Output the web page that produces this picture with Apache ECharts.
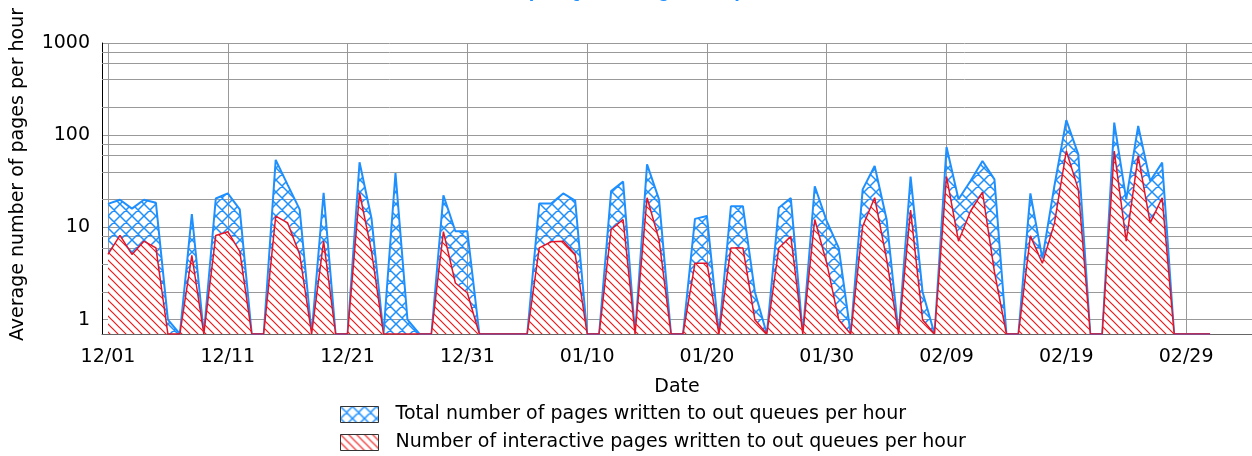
<!DOCTYPE html>
<html>
<head>
<meta charset="utf-8">
<script src="https://cdn.jsdelivr.net/npm/echarts@6/dist/echarts.min.js"></script>
<style>
  html, body { margin: 0; padding: 0; background: #fff; }
  #chart { width: 1252px; height: 456px; }
</style>
</head>
<body>
<div id="chart"></div>
<script>
  // days on the x axis (12/01 .. 03/05), one category per day
  const days = [
    '12/01','12/02','12/03','12/04','12/05','12/06','12/07','12/08','12/09','12/10',
    '12/11','12/12','12/13','12/14','12/15','12/16','12/17','12/18','12/19','12/20',
    '12/21','12/22','12/23','12/24','12/25','12/26','12/27','12/28','12/29','12/30','12/31',
    '01/01','01/02','01/03','01/04','01/05','01/06','01/07','01/08','01/09','01/10',
    '01/11','01/12','01/13','01/14','01/15','01/16','01/17','01/18','01/19','01/20',
    '01/21','01/22','01/23','01/24','01/25','01/26','01/27','01/28','01/29','01/30','01/31',
    '02/01','02/02','02/03','02/04','02/05','02/06','02/07','02/08','02/09','02/10',
    '02/11','02/12','02/13','02/14','02/15','02/16','02/17','02/18','02/19','02/20',
    '02/21','02/22','02/23','02/24','02/25','02/26','02/27','02/28','02/29',
    '03/01','03/02','03/03','03/04','03/05'
  ];

  const seriesNames = [
    'Total number of pages written to out queues per hour',
    'Number of interactive pages written to out queues per hour'
  ];

  // pages per hour, one value per day from 12/01 (0 = nothing written)
  const totalPages = [
    18, 20, 16, 20, 18.5, 1, 0, 14, 0, 20.6,
    23.4, 15.7, 0, 0, 54, 29, 15.7, 0, 23.8, 0,
    0, 51, 12.5, 0, 39, 1, 0, 0, 22.3, 9.1,
    9.1, 0, 0, 0, 0, 0, 18.2, 18.2, 23.4, 19.6,
    0, 0, 24.8, 31.4, 0, 48.4, 20.2, 0, 0, 12.4,
    13.3, 0, 17, 17, 2, 0, 16.4, 20.8, 0, 28,
    11.7, 6, 0, 25.9, 46.4, 12.2, 0, 35.6, 2, 0,
    74.6, 20.2, 31.9, 52.6, 33.2, 0, 0, 23.4, 4.6, 28,
    146, 62, 0, 0, 137, 20.2, 126, 31.9, 50.5, 0,
    0, 0, 0
  ];
  const interactivePages = [
    5.1, 8.2, 5.1, 7.1, 6, 0, 0, 5, 0, 8.2,
    9, 5.5, 0, 0, 13.3, 11.2, 5.1, 0, 7.1, 0,
    0, 23.8, 5.5, 0, 0, 0, 0, 0, 9, 2.5,
    1.95, 0, 0, 0, 0, 0, 6, 7, 7.1, 5.1,
    0, 0, 9.5, 12.2, 0, 21, 7.4, 0, 0, 4.1,
    4.1, 0, 6, 6, 1, 0, 6, 8, 0, 12.2,
    4.1, 1, 0, 10.3, 21, 4.5, 0, 15.4, 1, 0,
    35.6, 7.1, 15, 24.2, 3.3, 0, 0, 8.1, 4.1, 11,
    67.5, 25.9, 0, 0, 67.5, 7.1, 59.6, 11.2, 21, 0,
    0, 0, 0
  ];

  const yTicks = [1, 10, 100, 1000];
  const minorGrid = [2, 4, 6, 8, 20, 40, 60, 80, 200, 400, 600, 800];
  const yFloor = 0.7;   // bottom of the log axis, zero days sit on it

  const FONT = 'DejaVu Sans';

  function onLog(v) { return v > 0 ? v : yFloor; }

  // hatch tiles for the two areas
  function hatch(size, bg, color, width, cross) {
    const c = document.createElement('canvas');
    c.width = size; c.height = size;
    const ctx = c.getContext('2d');
    if (bg) { ctx.fillStyle = bg; ctx.fillRect(0, 0, size, size); }
    ctx.strokeStyle = color;
    ctx.lineWidth = width;
    ctx.beginPath();
    for (let k = -1; k <= 1; k++) {
      ctx.moveTo(k * size - 1, -1);
      ctx.lineTo(k * size + size + 1, size + 1);
      if (cross) {
        ctx.moveTo(k * size - 1, size + 1);
        ctx.lineTo(k * size + size + 1, -1);
      }
    }
    ctx.stroke();
    return c;
  }
  const bluePattern = { image: hatch(12, null, '#1E8FFF', 1.5, true), repeat: 'repeat' };
  const redPattern = { image: hatch(8, '#ffffff', '#F01818', 1.2, false), repeat: 'repeat' };

  const option = {
    animation: false,
    title: {
      text: 'Output Queue Page Groups',
      left: 'center',
      top: -24,
      textStyle: { color: '#1E8FFF', fontSize: 20, fontWeight: 'bold', fontFamily: 'Liberation Sans' }
    },
    grid: { left: 102, right: 0, top: 43, bottom: 122 },
    legend: {
      orient: 'vertical',
      left: 340,
      top: 405,
      height: 70,
      itemWidth: 38,
      itemHeight: 16,
      itemGap: 9,
      padding: 0,
      selectedMode: false,
      textStyle: { fontSize: 19, color: '#000', fontFamily: FONT, padding: [0, 0, 0, 12] },
      data: [
        { name: seriesNames[0], icon: 'rect', itemStyle: { color: bluePattern, borderColor: '#333', borderWidth: 1 } },
        { name: seriesNames[1], icon: 'rect', itemStyle: { color: redPattern, borderColor: '#333', borderWidth: 1 } }
      ]
    },
    xAxis: {
      type: 'category',
      data: days,
      boundaryGap: true,
      name: 'Date',
      nameLocation: 'middle',
      nameGap: 44,
      nameTextStyle: { fontSize: 19, color: '#000', fontFamily: FONT },
      axisLine: { lineStyle: { color: '#666' } },
      axisTick: {
        alignWithLabel: true,
        length: 5,
        interval: function (i) { return i < totalPages.length; },
        lineStyle: { color: '#333' }
      },
      axisLabel: {
        interval: function (i) { return i % 10 === 0; },
        margin: 14,
        fontSize: 19,
        color: '#000',
        fontFamily: FONT
      },
      splitLine: {
        show: true,
        alignWithLabel: true,
        interval: function (i) { return i % 10 === 0; },
        lineStyle: { color: '#999' }
      }
    },
    yAxis: {
      type: 'log',
      logBase: 10,
      min: yFloor,
      max: 1000,
      name: 'Average number of pages per hour',
      nameLocation: 'middle',
      nameGap: 74,
      nameTextStyle: { fontSize: 19, color: '#000', fontFamily: FONT, padding: [0, 0, 0, 28] },
      axisLine: { show: true, lineStyle: { color: '#000' } },
      axisTick: { show: false },
      axisLabel: {
        margin: 12,
        fontSize: 19,
        color: '#000',
        fontFamily: FONT,
        showMinLabel: false,
        formatter: function (v) {
          const r = Math.round(v);
          return yTicks.indexOf(r) >= 0 && Math.abs(v - r) < 1e-6 ? String(r) : '';
        }
      },
      splitLine: { show: true, lineStyle: { color: '#999' } }
    },
    series: [
      {
        name: seriesNames[0],
        type: 'line',
        data: totalPages.map(onLog),
        symbol: 'none',
        z: 2,
        lineStyle: { color: '#1E8FFF', width: 2 },
        itemStyle: { color: '#1E8FFF' },
        areaStyle: { color: bluePattern, opacity: 1, origin: 'start' },
        markLine: {
          silent: true,
          symbol: 'none',
          z: 1,
          label: { show: false },
          lineStyle: { color: '#999', type: 'solid', width: 1 },
          data: minorGrid.map(function (v) { return { yAxis: v }; })
        }
      },
      {
        name: seriesNames[1],
        type: 'line',
        data: interactivePages.map(onLog),
        symbol: 'none',
        z: 3,
        lineStyle: { color: '#E0142A', width: 1.5 },
        itemStyle: { color: '#E0142A' },
        areaStyle: { color: redPattern, opacity: 1, origin: 'start' }
      }
    ]
  };

  const chartObj = echarts.init(document.getElementById('chart'));
  chartObj.setOption(option);
</script>
</body>
</html>
